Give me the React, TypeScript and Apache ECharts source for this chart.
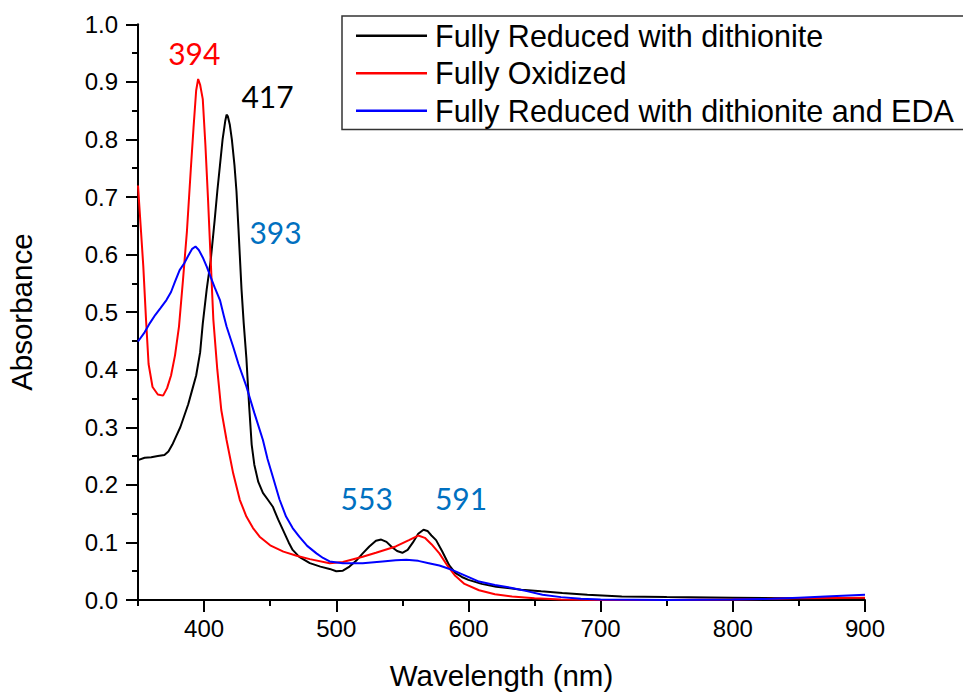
import React, { useEffect, useRef } from "react";
import * as echarts from "echarts";

const seriesNames = [
  "Fully Reduced with dithionite",
  "Fully Oxidized",
  "Fully Reduced with dithionite and EDA",
];

const reducedWl = [350, 355, 360, 365, 370, 373, 376, 379, 382, 385, 388, 391, 394, 397, 399, 402, 405, 408, 410, 412, 414, 416, 417, 418, 419.5, 421, 423, 424.5, 426, 428.3, 430, 432, 434, 436, 438, 441, 444.5, 448, 452, 456, 460, 464, 467, 472, 480, 488, 495, 500, 505, 510, 515, 520, 525, 530, 534, 538, 542, 546, 550, 554, 558, 562, 566, 569, 572, 575.5, 580, 585.5, 590, 595, 600, 610, 621, 640, 655, 671, 690, 716, 750, 800, 850, 900];
const reducedAbs = [0.243, 0.247, 0.248, 0.25, 0.252, 0.258, 0.27, 0.285, 0.3, 0.32, 0.34, 0.365, 0.39, 0.43, 0.48, 0.54, 0.59, 0.66, 0.71, 0.755, 0.8, 0.832, 0.843, 0.84, 0.825, 0.8, 0.755, 0.71, 0.645, 0.54, 0.48, 0.42, 0.34, 0.27, 0.235, 0.205, 0.186, 0.175, 0.162, 0.14, 0.12, 0.1, 0.087, 0.075, 0.064, 0.058, 0.054, 0.05, 0.051, 0.058, 0.068, 0.081, 0.093, 0.103, 0.105, 0.101, 0.092, 0.085, 0.082, 0.087, 0.1, 0.115, 0.122, 0.12, 0.112, 0.104, 0.085, 0.06, 0.047, 0.04, 0.035, 0.028, 0.023, 0.018, 0.015, 0.012, 0.009, 0.006, 0.005, 0.004, 0.003, 0.002];

const oxidizedWl = [350, 352, 354, 356, 358, 361, 365, 369, 372, 375, 378, 381, 384, 387, 390, 392, 394, 395.5, 397, 399, 401, 403, 405, 407, 410, 413, 417, 422, 427, 432, 437, 442, 450, 460, 470, 480, 495, 505, 520, 530, 545, 555, 562, 567, 572, 578, 584, 590, 597, 608, 620, 633, 650, 670, 700, 750, 800, 850, 900];
const oxidizedAbs = [0.72, 0.65, 0.58, 0.49, 0.41, 0.37, 0.357, 0.355, 0.368, 0.39, 0.425, 0.475, 0.555, 0.64, 0.75, 0.82, 0.885, 0.905, 0.895, 0.87, 0.79, 0.695, 0.59, 0.487, 0.4, 0.33, 0.278, 0.22, 0.174, 0.145, 0.125, 0.11, 0.095, 0.084, 0.077, 0.071, 0.064, 0.066, 0.075, 0.082, 0.093, 0.104, 0.112, 0.108, 0.097, 0.081, 0.06, 0.042, 0.028, 0.017, 0.01, 0.006, 0.003, 0.001, 0.0, 0.0, 0.001, 0.003, 0.004];

const edaWl = [350, 355, 359, 363, 367, 371.5, 375, 378, 381.5, 385, 388, 391, 393.5, 396, 399, 402, 405, 408, 412, 415, 417, 422, 426, 432, 438, 444.5, 448, 452, 457, 462, 467, 472, 478, 485, 490, 495, 505, 520, 535, 545, 553, 562, 570, 578, 588, 598, 608, 620, 633, 645, 656, 670, 685, 700, 750, 800, 830, 850, 870, 900];
const edaAbs = [0.449, 0.465, 0.481, 0.495, 0.507, 0.521, 0.535, 0.553, 0.573, 0.585, 0.598, 0.61, 0.614, 0.608, 0.595, 0.579, 0.561, 0.543, 0.521, 0.493, 0.475, 0.44, 0.41, 0.371, 0.325, 0.278, 0.245, 0.214, 0.175, 0.145, 0.125, 0.11, 0.094, 0.081, 0.073, 0.067, 0.064, 0.064, 0.067, 0.069, 0.07, 0.068, 0.064, 0.06, 0.052, 0.042, 0.032, 0.026, 0.021, 0.015, 0.009, 0.005, 0.002, 0.001, 0.0, 0.001, 0.002, 0.004, 0.006, 0.009];

// Peak annotations: [label, wavelength, absorbance] (text centre, in data units)
const reducedNotes: [string, number, number][] = [["417", 448, 0.876]];
const oxidizedNotes: [string, number, number][] = [["394", 392.6, 0.95]];
const edaNotes: [string, number, number][] = [
  ["393", 454, 0.64],
  ["553", 523, 0.178],
  ["591", 594.4, 0.178],
];

const lineColors = ["#000000", "#FF0000", "#0000FF"];
const noteColors = ["#000000", "#FF0000", "#0070C0"];

const zip = (xs: number[], ys: number[]) => xs.map((x, i) => [x, ys[i]]);

export default function App() {
  const ref = useRef<HTMLDivElement>(null);
  useEffect(() => {
    if (!ref.current) return;
    const chart = echarts.init(ref.current, undefined, { renderer: "svg" });
    const datasets = [
      zip(reducedWl, reducedAbs),
      zip(oxidizedWl, oxidizedAbs),
      zip(edaWl, edaAbs),
    ];
    const notes = [reducedNotes, oxidizedNotes, edaNotes];
    const font = "'Liberation Sans', Arial, sans-serif";
    chart.setOption({
      animation: false,
      backgroundColor: "#ffffff",
      grid: {
        left: 138,
        right: 98,
        top: 24.3,
        bottom: 93,
        containLabel: false,
        outerBoundsMode: "none",
      },
      legend: {
        orient: "vertical",
        left: 342,
        top: 16,
        padding: [1, 12, 0, 14],
        icon: "rect",
        itemWidth: 71,
        itemHeight: 2.5,
        itemGap: 0,
        borderColor: "#333333",
        borderWidth: 1.5,
        textStyle: { fontSize: 30.5, fontFamily: font, color: "#000", lineHeight: 37.5, padding: [0, 0, 0, 3] },
        data: seriesNames,
      },
      xAxis: [
        {
          type: "value",
          min: 350,
          max: 900,
          splitNumber: 5,
          name: "Wavelength (nm)",
          nameLocation: "middle",
          nameGap: 60,
          nameTextStyle: { fontSize: 29.5, fontFamily: font, color: "#000" },
          axisLine: { show: true, lineStyle: { color: "#000", width: 2 } },
          axisTick: { show: true, length: 12, lineStyle: { color: "#000", width: 2 } },
          axisLabel: {
            fontSize: 24,
            fontFamily: font,
            color: "#000",
            margin: 16,
            showMinLabel: false,
            formatter: (v: number) => (v % 100 === 0 ? String(v) : ""),
          },
          splitLine: { show: false },
        },
        {
          type: "value",
          min: 350,
          max: 900,
          interval: 50,
          position: "bottom",
          axisLine: { show: false },
          axisTick: { show: true, length: 6, lineStyle: { color: "#000", width: 2 } },
          axisLabel: { show: false },
          splitLine: { show: false },
        },
      ],
      yAxis: {
        type: "value",
        min: 0,
        max: 1,
        interval: 0.1,
        name: "Absorbance",
        nameLocation: "middle",
        nameGap: 102,
        nameTextStyle: { fontSize: 29.5, fontFamily: font, color: "#000" },
        axisLine: { show: true, lineStyle: { color: "#000", width: 2 } },
        axisTick: { show: true, length: 12, lineStyle: { color: "#000", width: 2 } },
        minorTick: { show: true, splitNumber: 2, length: 6, lineStyle: { color: "#000", width: 2 } },
        axisLabel: {
          fontSize: 24,
          fontFamily: font,
          color: "#000",
          margin: 20,
          formatter: (v: number) => v.toFixed(1),
        },
        splitLine: { show: false },
        minorSplitLine: { show: false },
      },
      series: seriesNames.map((name, i) => ({
        name,
        type: "line",
        xAxisIndex: 0,
        data: datasets[i],
        symbol: "none",
        showSymbol: false,
        smooth: false,
        lineStyle: { color: lineColors[i], width: 2 },
        itemStyle: { color: lineColors[i] },
        markPoint: {
          symbol: "circle",
          symbolSize: 0,
          silent: true,
          label: {
            show: true,
            position: "inside",
            formatter: "{b}",
            fontSize: 30,
            fontFamily: "Lato, 'Open Sans', sans-serif",
            color: noteColors[i],
          },
          data: notes[i].map(([t, x, y]) => ({ name: t, coord: [x, y] })),
        },
      })),
    });
    return () => chart.dispose();
  }, []);
  return (
    <div
      ref={ref}
      style={{ position: "absolute", left: 0, top: 0, width: 963, height: 693 }}
    />
  );
}
